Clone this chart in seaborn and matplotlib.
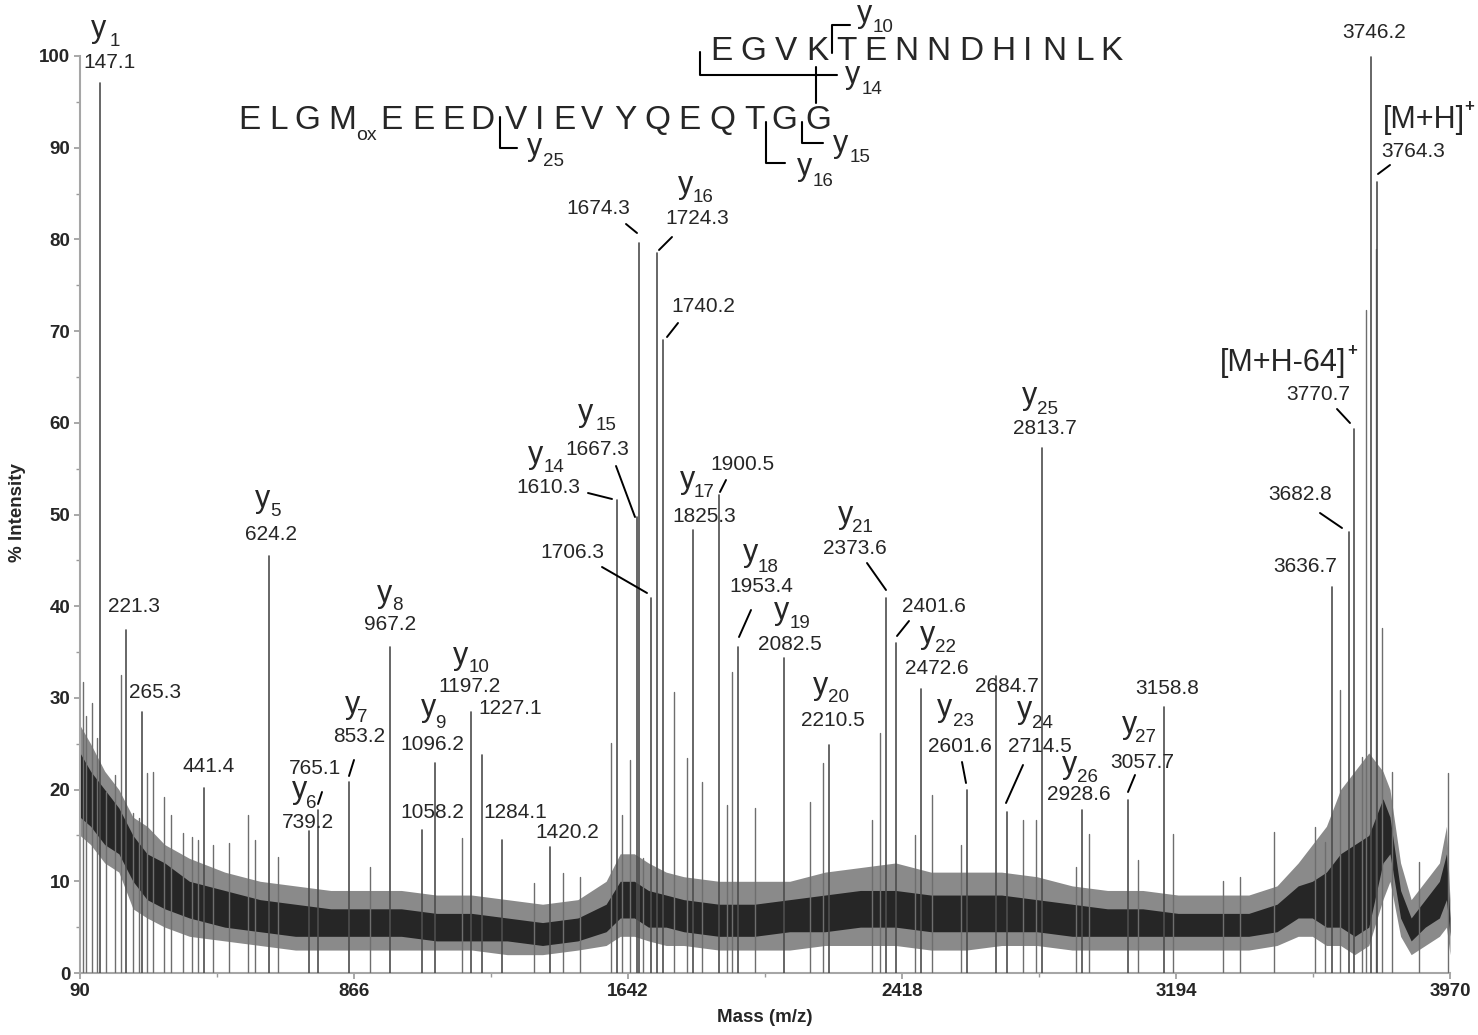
import numpy as np
import pandas as pd
import seaborn as sns
import matplotlib.pyplot as plt
from matplotlib.lines import Line2D
from matplotlib.ticker import FixedLocator, MultipleLocator

# ---- data ----
# labelled peaks (m/z, % intensity)
peak_mz = [147.1, 221.3, 265.3, 441.4, 624.2, 739.2, 765.1, 853.2, 967.2, 1058.2,
           1096.2, 1197.2, 1227.1, 1284.1, 1420.2, 1610.3, 1667.3, 1674.3, 1706.3,
           1724.3, 1740.2, 1825.3, 1900.5, 1953.4, 2082.5, 2210.5, 2373.6, 2401.6,
           2472.6, 2601.6, 2684.7, 2714.5, 2813.7, 2928.6, 3057.7, 3158.8, 3636.7,
           3682.8, 3698.0, 3746.2, 3764.3]
peak_int = [97.1, 37.4, 28.5, 20.2, 45.5, 15.5, 17.8, 20.8, 35.6, 15.6,
            22.9, 28.5, 23.8, 14.5, 13.7, 51.6, 49.7, 79.6, 40.9,
            78.5, 69.0, 48.3, 52.1, 35.6, 34.3, 24.9, 40.9, 36.0,
            31.0, 20.0, 32.4, 17.6, 57.2, 17.8, 18.9, 29.0, 42.1,
            48.1, 59.3, 99.9, 86.3]

# unlabelled spikes above the noise
minor_mz = [98.5, 107, 125, 138, 164, 189, 206, 240, 257, 280, 297, 328, 347, 382,
            407, 424, 466, 512, 566, 586, 651, 911, 1172, 1376, 1458, 1506, 1594,
            1625, 1648, 1684, 1772, 1809, 1851, 1922, 1936, 2002, 2157, 2194, 2333,
            2356, 2455, 2503, 2585, 2761, 2797, 2911, 2947, 3086, 3185, 3327, 3375,
            3471, 3587, 3616, 3658, 3721, 3732, 3760, 3777, 3806, 3882, 3964]
minor_int = [31.7, 28.0, 29.4, 25.6, 19.7, 21.6, 32.5, 17.4, 16.9, 21.8, 21.9, 19.2, 17.2, 15.3,
             14.8, 14.5, 14.0, 14.2, 17.2, 14.5, 12.7, 11.6, 14.7, 9.8, 10.9, 10.5, 25.1,
             17.2, 23.2, 12.5, 30.6, 23.4, 20.8, 18.3, 32.8, 18.0, 18.7, 22.9, 16.7,
             26.2, 15.0, 19.4, 14.0, 16.7, 16.7, 11.6, 15.2, 12.3, 15.2, 10.0, 10.5,
             15.4, 15.9, 14.3, 30.9, 23.6, 72.3, 79.0, 37.6, 21.9, 12.1, 21.8]

# noise floor envelope (outer range and dense core)
noise_mz = [90, 120, 160, 200, 240, 280, 330, 400, 500, 600, 700, 800, 900, 1000, 1100,
            1200, 1300, 1400, 1500, 1580, 1620, 1660, 1700, 1750, 1800, 1900, 2000, 2100,
            2200, 2300, 2400, 2500, 2600, 2700, 2800, 2900, 3000, 3100, 3200, 3300, 3400,
            3480, 3540, 3580, 3620, 3660, 3700, 3740, 3780, 3800, 3830, 3860, 3900, 3940,
            3960, 3970]
noise_lo = [15, 14, 12, 11, 7, 6, 5, 4, 3.5, 3, 2.5, 2.5, 2.5, 2.5, 2.5,
            2.5, 2, 2, 2.5, 3, 4, 4, 3.5, 3, 3, 2.5, 2.5, 2.5,
            3, 3, 3, 2.5, 2.5, 3, 3, 2.5, 2.5, 2.5, 2.5, 2.5, 2.5,
            3, 4, 4, 3, 3, 2, 3, 8, 10, 4, 2, 3, 4,
            5, 2]
noise_hi = [27, 25, 22, 20, 17, 16, 14, 12.5, 11, 10, 9.5, 9, 9, 9, 8.5,
            8.5, 8, 7.5, 8, 10, 13, 13, 12, 11, 10.5, 10, 10, 10,
            11, 11.5, 12, 11, 11, 11, 10.5, 9.5, 9, 9, 8.5, 8.5, 8.5,
            9.5, 12, 14, 16, 20, 22, 24, 22, 20, 12, 8, 10, 12,
            16, 8]
core_lo = [17, 16, 14, 13, 10, 8, 7, 6, 5, 4.5, 4, 4, 4, 4, 3.5,
           3.5, 3.5, 3, 3.5, 4.5, 6, 6, 5, 5, 4.5, 4, 4, 4.5,
           4.5, 5, 5, 4.5, 4.5, 4.5, 4.5, 4, 4, 4, 4, 4, 4,
           4.5, 6, 6, 5, 5, 4, 5, 12, 13, 6, 3.5, 5, 6,
           8, 4]
core_hi = [24, 22, 20, 18, 15, 13, 12, 10, 9, 8, 7.5, 7, 7, 7, 6.5,
           6.5, 6, 5.5, 6, 7.5, 10, 10, 9, 8.5, 8, 7.5, 7.5, 8,
           8.5, 9, 9, 8.5, 8.5, 8.5, 8, 7.5, 7, 7, 6.5, 6.5, 6.5,
           7.5, 9.5, 10, 11, 13, 14, 15, 19, 17, 9, 6, 8, 10,
           13, 6]

x_ticks = [90, 866, 1642, 2418, 3194, 3970]
x_minor = [478, 1254, 2030, 2806, 3582]
y_ticks = [0, 10, 20, 30, 40, 50, 60, 70, 80, 90, 100]

# ---- figure ----
W, H = 1478, 1035
sns.set_theme(style="ticks")
plt.rcParams['font.family'] = ['Liberation Sans', 'DejaVu Sans']

fig = plt.figure(figsize=(W / 100, H / 100), dpi=100)
ax = fig.add_axes([80 / W, 1 - 973 / H, 1370 / W, 917 / H])


def fp(x, y):
    # pixel position in the picture -> figure fraction
    return x / W, 1 - y / H


ax.fill_between(noise_mz, noise_lo, noise_hi, color='#8a8a8a', lw=0, zorder=1)
ax.fill_between(noise_mz, core_lo, core_hi, color='#262626', lw=0, zorder=2)

# peaks as sticks, drawn through seaborn
rows = []
for i, (m, h) in enumerate(zip(minor_mz, minor_int)):
    rows += [("m%d" % i, m, 0.0), ("m%d" % i, m, h)]
minor_df = pd.DataFrame(rows, columns=["pk", "mz", "inten"])
rows = []
for i, (m, h) in enumerate(zip(peak_mz, peak_int)):
    rows += [("p%d" % i, m, 0.0), ("p%d" % i, m, h)]
peak_df = pd.DataFrame(rows, columns=["pk", "mz", "inten"])

sns.lineplot(data=minor_df, x="mz", y="inten", units="pk", estimator=None, sort=False,
             color='#6e6e6e', lw=1.0, ax=ax, zorder=3)
sns.lineplot(data=peak_df, x="mz", y="inten", units="pk", estimator=None, sort=False,
             color='#4d4d4d', lw=1.2, ax=ax, zorder=4)

ax.set_xlim(90, 3970)
ax.set_ylim(0, 100)
ax.xaxis.set_major_locator(FixedLocator(x_ticks))
ax.xaxis.set_minor_locator(FixedLocator(x_minor))
ax.yaxis.set_major_locator(FixedLocator(y_ticks))
ax.yaxis.set_minor_locator(MultipleLocator(5))
ax.set_xticklabels([str(t) for t in x_ticks], fontweight='bold', fontsize=13.5)
ax.set_yticklabels([str(t) for t in y_ticks], fontweight='bold', fontsize=13.5)
ax.tick_params(which='major', direction='out', length=4, width=1.2, color='#9a9a9a', pad=3)
ax.tick_params(which='minor', direction='out', length=3, width=1.0, color='#9a9a9a')
sns.despine(ax=ax)
for s in ['left', 'bottom']:
    ax.spines[s].set_color('#a6a6a6')
    ax.spines[s].set_linewidth(1.5)
ax.set_xlabel("")
ax.set_ylabel("")
fig.text(*fp(765, 1018), "Mass (m/z)", ha='center', va='center', fontsize=13.5, fontweight='bold')
fig.text(*fp(18, 513), "% Intensity", ha='center', va='center', rotation=90,
         fontsize=13.5, fontweight='bold')

# ---- annotations (picture pixel layout) ----
NUM = 15
YS = 22
SUB = 13.5

numbers = [("147.1", 110, 62), ("221.3", 134, 607), ("265.3", 155, 692), ("441.4", 209, 766),
           ("624.2", 271, 535), ("739.2", 308, 823), ("765.1", 315, 768), ("853.2", 359, 737),
           ("967.2", 390, 625), ("1058.2", 432, 813), ("1096.2", 432, 745), ("1197.2", 470, 686),
           ("1227.1", 510, 709), ("1284.1", 515, 812), ("1420.2", 567, 833), ("1610.3", 548, 488),
           ("1667.3", 597, 450), ("1706.3", 572, 553), ("1674.3", 598, 208), ("1724.3", 697, 218),
           ("1740.2", 703, 306), ("1825.3", 704, 516), ("1900.5", 742, 465), ("1953.4", 761, 587),
           ("2082.5", 790, 645), ("2210.5", 833, 721), ("2373.6", 855, 548), ("2401.6", 934, 606),
           ("2472.6", 937, 668), ("2601.6", 960, 747), ("2684.7", 1007, 687), ("2714.5", 1040, 747),
           ("2813.7", 1045, 428), ("2928.6", 1079, 795), ("3057.7", 1142, 762), ("3158.8", 1167, 689),
           ("3746.2", 1374, 33), ("3764.3", 1413, 152), ("3770.7", 1318, 395), ("3682.8", 1300, 495),
           ("3636.7", 1305, 566)]
for s, x, y in numbers:
    fig.text(*fp(x, y), s, ha='center', va='center', fontsize=NUM)

# ion labels: (index, left of y, baseline of y, centre of subscript)
ions = [("1", 91, 37, 115, 41), ("5", 255, 507, 275, 512), ("8", 377, 602, 397, 605),
        ("7", 345, 713, 362, 717), ("6", 292, 798, 311, 803), ("9", 421, 716, 440, 723),
        ("10", 453, 664, 479, 668), ("14", 528, 463, 554, 467), ("15", 578, 421, 606, 426),
        ("16", 678, 193, 703, 198), ("17", 680, 488, 704, 493), ("18", 743, 561, 768, 567),
        ("19", 774, 619, 800, 623), ("20", 813, 694, 838, 698), ("21", 838, 523, 862, 528),
        ("22", 920, 643, 946, 648), ("23", 937, 716, 963, 722), ("24", 1017, 718, 1042, 723),
        ("25", 1022, 404, 1048, 409), ("26", 1062, 773, 1087, 777), ("27", 1122, 733, 1146, 738),
        # fragment labels on the sequence
        ("10", 857, 22, 883, 28), ("14", 845, 83, 872, 90), ("25", 527, 155, 553, 162),
        ("16", 797, 175, 823, 182), ("15", 833, 152, 860, 157)]
for n, x, y, sx, sy in ions:
    fig.text(*fp(x, y), "y", ha='left', va='baseline', fontsize=YS)
    fig.text(*fp(sx, sy), n, ha='center', va='center', fontsize=SUB)

leaders = [((354, 760), (349, 776)), ((322, 792), (318, 804)), ((588, 493), (612, 499)),
           ((616, 466), (635, 517)), ((602, 567), (647, 593)), ((626, 224), (637, 233)),
           ((672, 237), (659, 250)), ((678, 323), (667, 337)), ((726, 480), (720, 492)),
           ((751, 610), (739, 637)), ((867, 563), (886, 590)), ((909, 621), (897, 636)),
           ((962, 762), (966, 783)), ((1023, 765), (1006, 803)), ((1135, 775), (1128, 792)),
           ((1390, 165), (1378, 174)), ((1337, 409), (1350, 423)), ((1320, 513), (1342, 528))]
for (x0, y0), (x1, y1) in leaders:
    a, b = fp(x0, y0)
    c, d = fp(x1, y1)
    fig.add_artist(Line2D([a, c], [b, d], transform=fig.transFigure, color='black', lw=1.4))

# precursor labels
fig.text(*fp(1383, 120), "[M+H]", ha='left', va='center', fontsize=22)
fig.text(*fp(1469, 106), "+", ha='center', va='center', fontsize=12, fontweight='bold')
fig.text(*fp(1220, 363), "[M+H-64]", ha='left', va='center', fontsize=22)
fig.text(*fp(1352, 350), "+", ha='center', va='center', fontsize=12, fontweight='bold')

# peptide sequences
seq_low = list("ELGM") + list("EEEDVIEVYQEQTGG")
seq_low_x = [249, 279, 307, 342, 391, 423, 453, 482, 516, 540, 564, 592, 625, 657, 689,
             722, 754, 784, 818]
for ch, x in zip(seq_low, seq_low_x):
    fig.text(*fp(x, 121), ch, ha='center', va='center', fontsize=24)
fig.text(*fp(366, 136), "ox", ha='center', va='center', fontsize=14)

seq_top = list("EGVKTENNDHINLK")
seq_top_x = [721, 753, 786, 817, 846, 875, 906, 938, 971, 1003, 1028, 1054, 1085, 1111]
for ch, x in zip(seq_top, seq_top_x):
    fig.text(*fp(x, 51), ch, ha='center', va='center', fontsize=24)

brackets = [[(700, 52), (700, 75), (837, 75)], [(816, 67), (816, 103)],
            [(832, 53), (832, 25), (850, 25)], [(500, 117), (500, 148), (517, 148)],
            [(766, 122), (766, 163), (785, 163)], [(802, 122), (802, 143), (823, 143)]]
for pts in brackets:
    xs = [p[0] / W for p in pts]
    ys = [1 - p[1] / H for p in pts]
    fig.add_artist(Line2D(xs, ys, transform=fig.transFigure, color='black', lw=1.5))

fig.savefig("out.png", dpi=100)
